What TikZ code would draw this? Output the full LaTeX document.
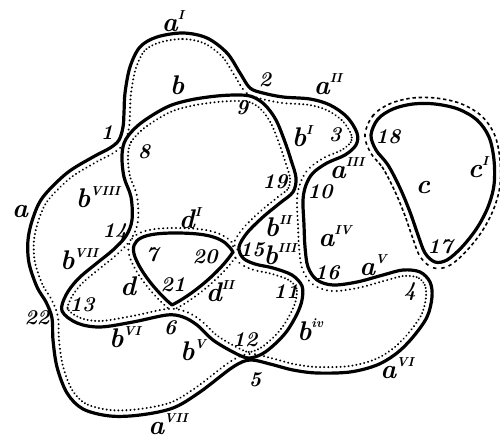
\documentclass[tikz,border=0pt]{standalone}
\usetikzlibrary{decorations.markings}
\newcommand\supmark[1]{\raisebox{1.05ex}{\fontsize{13}{13}\selectfont\bfseries\itshape #1}}
\tikzset{
  curveline/.style={line width=3.2pt, line join=round},
  innerdots/.style={postaction={decorate, decoration={markings,
     mark=between positions 0 and 1 step 4.2pt with {\fill (0pt,#1) circle (1.1pt);}}}},
  outerdash/.style={postaction={decorate, decoration={markings,
     mark=between positions 0 and 1 step 5.8pt with {\draw[line width=1.6pt] (-1.7pt,#1) -- (1.7pt,#1);}}}},
  letter/.style={font=\fontsize{27}{27}\selectfont\bfseries\itshape, inner sep=0pt},
  num/.style={font=\fontsize{21}{21}\selectfont\bfseries\itshape, inner sep=0pt},
}
\begin{document}
\begin{tikzpicture}[x=1pt,y=-1pt]
\useasboundingbox (0,0) rectangle (500,441);
% curve A
\draw[curveline, innerdots=-6pt] plot[smooth cycle, tension=0.55] coordinates {
(157,37) (183,33) (207,38) (227,53) (240,73) (250,88) (263,93) (283,97) (310,99) (330,105) (347,117) (357,133) (356,145) (345,155) (327,163) (313,173) (306,185) (303,200) (304,225) (305,247) (308,267) (317,280) (333,285) (357,282) (383,275) (403,270) (420,272) (430,282) (432,297) (427,317) (413,337) (397,353) (377,365) (350,372) (317,373) (293,370) (270,364) (250,360) (233,367) (200,392) (173,408) (140,415) (110,416) (83,409) (67,393) (57,367) (53,340) (52,318) (46,302) (37,287) (29,263) (28,240) (33,218) (43,197) (67,173) (93,157) (110,148) (119,140) (123,127) (124,113) (125,93) (130,67) (140,47)};
% curve B
\draw[curveline, innerdots=-6pt] plot[smooth cycle, tension=0.55] coordinates {
(122,155) (126,139) (141,123) (167,107) (190,100) (217,96) (240,95) (253,97) (265,105) (276,120) (285,142) (291,160) (296,178) (293,192) (280,203) (263,217) (247,233) (239,247) (243,258) (255,264) (273,268) (292,275) (302,286) (302,300) (297,314) (287,331) (275,344) (262,354) (248,358) (233,352) (213,340) (197,325) (183,317) (167,315) (133,322) (100,327) (77,323) (62,311) (66,295) (78,279) (97,263) (113,250) (126,236) (132,220) (131,197) (124,177)};
% triangle D
\draw[curveline, innerdots=-5pt] (233,252) .. controls (225,238) and (210,233) .. (175,233)
  .. controls (145,233) and (128,238) .. (135,257) .. controls (142,275) and (160,295) .. (172,305)
  .. controls (192,295) and (220,272) .. (233,252) -- cycle;
% curve C
\draw[curveline, outerdash=6pt] plot[smooth cycle, tension=0.55] coordinates {
(371,135) (378,119) (393,109) (413,104) (435,104) (458,109) (477,120) (489,137) (494,160) (494,185) (488,207) (477,228) (462,247) (447,260) (435,262) (425,253) (418,235) (410,212) (400,188) (388,165) (376,150)};
% letters
\node[letter] (la1) at (173,21) {a\supmark{I}};
\node[letter] (la2) at (328,84) {a\supmark{II}};
\node[letter] (la3) at (347,168) {a\supmark{III}};
\node[letter] (la4) at (335,236) {a\supmark{IV}};
\node[letter] (la5) at (373,265) {a\supmark{V}};
\node[letter] (la6) at (397,368) {a\supmark{VI}};
\node[letter] (la7) at (168,424) {a\supmark{VII}};
\node[letter] (la0) at (20,212) {a};
\node[letter] (lb0) at (177,85) {b};
\node[letter] (lb1) at (302,136) {b\supmark{I}};
\node[letter] (lb2) at (278,226) {b\supmark{II}};
\node[letter] (lb3) at (280,254) {b\supmark{III}};
\node[letter] (lb4) at (310,330) {b\supmark{iv}};
\node[letter] (lb5) at (193,350) {b\supmark{V}};
\node[letter] (lb6) at (125,337) {b\supmark{VI}};
\node[letter] (lb7) at (79,259) {b\supmark{VII}};
\node[letter] (lb8) at (98,197) {b\supmark{VIII}};
\node[letter] (lc0) at (423,188) {c};
\node[letter] (lc1) at (478,167) {c\supmark{I}};
\node[letter] (ld0) at (128,286) {d};
\node[letter] (ld1) at (190,218) {d\supmark{I}};
\node[letter] (ld2) at (220,291) {d\supmark{II}};
% numbers
\node[num] (n1) at (107,133) {1};
\node[num] (n2) at (265,80) {2};
\node[num] (n3) at (335,135) {3};
\node[num] (n4) at (410,292) {4};
\node[num] (n5) at (255,380) {5};
\node[num] (n6) at (170,328) {6};
\node[num] (n7) at (152,255) {7};
\node[num] (n8) at (144,152) {8};
\node[num] (n9) at (242,108) {9};
\node[num] (n10) at (320,192) {10};
\node[num] (n11) at (286,292) {11};
\node[num] (n12) at (245,340) {12};
\node[num] (n13) at (82,305) {13};
\node[num] (n14) at (115,233) {14};
\node[num] (n15) at (252,250) {15};
\node[num] (n16) at (327,273) {16};
\node[num] (n17) at (440,247) {17};
\node[num] (n18) at (388,137) {18};
\node[num] (n19) at (275,182) {19};
\node[num] (n20) at (205,257) {20};
\node[num] (n21) at (173,285) {21};
\node[num] (n22) at (37,318) {22};
\end{tikzpicture}
\end{document}
